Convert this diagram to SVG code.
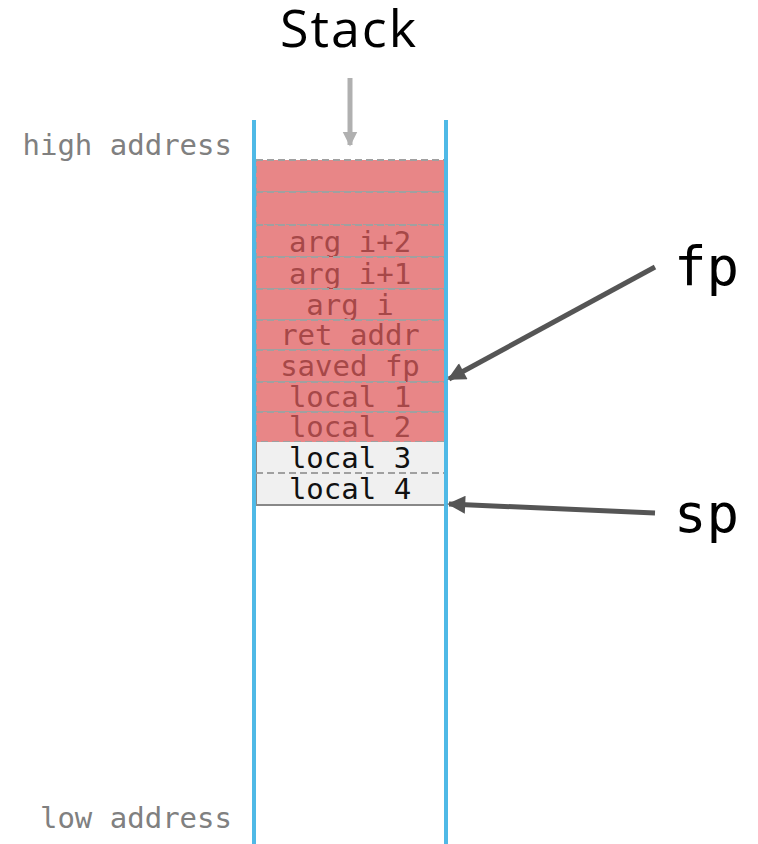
<svg xmlns="http://www.w3.org/2000/svg" width="758" height="844" viewBox="0 0 758 844">
  <style>
    .rail { stroke: #4fb9e6; stroke-width: 4; fill: none; }
    .addr { font-family: "DejaVu Sans Mono", "Liberation Mono", monospace; font-size: 29px; fill: #808080; }
    .cell { font-family: "DejaVu Sans Mono", "Liberation Mono", monospace; font-size: 29px; text-anchor: middle; }
    .used rect { fill: #e88687; stroke: #a0a0a0; stroke-width: 2; stroke-dasharray: 7 4; }
    .used text { fill: #a64848; }
    .free rect { fill: #f0f0f0; stroke: none; }
    .free text { fill: #111111; }
    .title { font-family: "Open Sans", "Noto Sans", sans-serif; fill: #000000; }
    .reg { font-family: "DejaVu Sans Mono", "Liberation Mono", monospace; font-size: 54px; fill: #000000; }
    .ptr { stroke: #555555; stroke-width: 5; fill: none; }
  </style>
  <defs>
    <marker id="headDark" viewBox="0 0 10 10" refX="9" refY="5" markerWidth="4" markerHeight="3.6" orient="auto" markerUnits="strokeWidth">
      <path d="M0,0 L10,5 L0,10 z" fill="#555555"/>
    </marker>
    <marker id="headLight" viewBox="0 0 10 10" refX="9" refY="5" markerWidth="3" markerHeight="3.2" orient="auto" markerUnits="strokeWidth">
      <path d="M0,0 L10,5 L0,10 z" fill="#b0b0b0"/>
    </marker>
  </defs>

  <rect width="758" height="844" fill="#ffffff"/>

  <!-- title -->
  <g id="title">
    <text class="title" x="349" y="47" font-size="52" letter-spacing="2" text-anchor="middle">Stack</text>
  </g>

  <!-- address labels -->
  <g id="labels">
    <text class="addr" x="232" y="155" text-anchor="end">high address</text>
    <text class="addr" x="232" y="828" text-anchor="end">low address</text>
  </g>

  <!-- stack frames, top to bottom -->
  <g id="frames">
    <g id="slot-0" class="used"><rect x="256" y="160" width="189" height="32"/></g>
    <g id="slot-1" class="used"><rect x="256" y="192" width="189" height="33"/></g>
    <g id="slot-arg2" class="used"><rect x="256" y="225" width="189" height="32"/><text class="cell" x="350" y="252">arg i+2</text></g>
    <g id="slot-arg1" class="used"><rect x="256" y="257" width="189" height="32"/><text class="cell" x="350" y="284">arg i+1</text></g>
    <g id="slot-arg0" class="used"><rect x="256" y="289" width="189" height="31"/><text class="cell" x="350" y="315">arg i</text></g>
    <g id="slot-ret" class="used"><rect x="256" y="320" width="189" height="30"/><text class="cell" x="350" y="345">ret addr</text></g>
    <g id="slot-fp" class="used"><rect x="256" y="350" width="189" height="32"/><text class="cell" x="350" y="376">saved fp</text></g>
    <g id="slot-local1" class="used"><rect x="256" y="382" width="189" height="30"/><text class="cell" x="350" y="407">local 1</text></g>
    <g id="slot-local2" class="used"><rect x="256" y="412" width="189" height="30"/><text class="cell" x="350" y="437">local 2</text></g>
    <g id="slot-local3" class="free"><rect x="256" y="442" width="189" height="31"/><text class="cell" x="350" y="468">local 3</text></g>
    <g id="slot-local4" class="free"><rect x="256" y="473" width="189" height="32"/><text class="cell" x="350" y="499">local 4</text></g>
    <!-- outline of the unsaved area -->
    <path d="M256,442 L256,505 L445,505 L445,442" fill="none" stroke="#888888" stroke-width="2"/>
    <line x1="256" y1="473" x2="445" y2="473" stroke="#a0a0a0" stroke-width="2" stroke-dasharray="7 4"/>
  </g>

  <!-- stack walls -->
  <g id="walls">
    <line class="rail" x1="254" y1="120" x2="254" y2="844"/>
    <line class="rail" x1="446" y1="120" x2="446" y2="844"/>
  </g>

  <!-- pointer names -->
  <g id="fp">
    <text class="reg" x="674" y="285">fp</text>
  </g>
  <g id="sp">
    <text class="reg" x="674" y="532">sp</text>
  </g>

  <!-- connectors -->
  <g id="connectors">
    <line x1="350" y1="78" x2="350" y2="145" stroke="#b0b0b0" stroke-width="5" marker-end="url(#headLight)"/>
    <line class="ptr" x1="655" y1="267" x2="449" y2="379" marker-end="url(#headDark)"/>
    <line class="ptr" x1="655" y1="513" x2="449" y2="504" marker-end="url(#headDark)"/>
  </g>
</svg>
